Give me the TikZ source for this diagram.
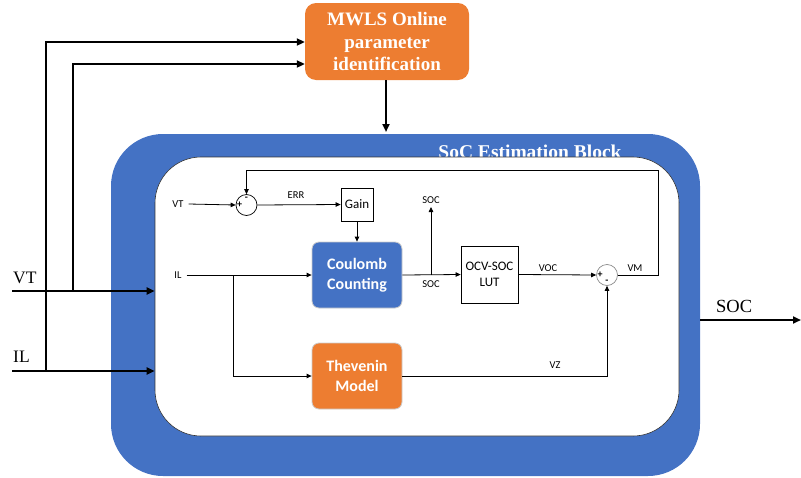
\documentclass[tikz,border=0pt]{standalone}
\usepackage{fontspec}
\setmainfont{Liberation Serif}
\newfontfamily\calib{Carlito}
\usetikzlibrary{arrows.meta}
\definecolor{sblue}{HTML}{4472C4}
\definecolor{sorange}{HTML}{ED7D31}
\begin{document}
\begin{tikzpicture}[x=1pt,y=-1pt,
  bigarrow/.style={line width=2pt,-{Triangle[length=8pt,width=7pt]}},
  smallarrow/.style={line width=0.8pt,-{Triangle[length=5pt,width=4.5pt]}},
  outerlbl/.style={font=\fontsize{17.5}{20}\selectfont,inner sep=0pt},
  lbl/.style={font=\calib\fontsize{10.5}{12}\selectfont,inner sep=0pt},
  sumc/.style={circle,draw,line width=0.7pt,minimum size=21pt,inner sep=0pt},
  sgn/.style={font=\calib\bfseries\fontsize{10}{10}\selectfont,inner sep=0pt},
  plainbox/.style={draw,line width=0.8pt,fill=white,font=\calib\fontsize{13}{16}\selectfont,align=center,inner sep=0pt},
  colbox/.style={draw=black!20,line width=0.8pt,rounded corners=7pt,text=white,font=\calib\bfseries\fontsize{16}{20}\selectfont,align=center,minimum width=90pt,minimum height=66pt,inner sep=0pt}
]
\useasboundingbox (0,0) rectangle (801,477);

% MWLS block
\node[fill=sorange,rounded corners=11pt,minimum width=164pt,minimum height=77pt,text=white,
  font=\bfseries\fontsize{19}{22.5}\selectfont,align=center,inner sep=0pt] (mwls) at (387,41.5)
  {MWLS Online\\parameter\\identification};

% outer and inner blocks
\node[fill=sblue,rounded corners=52pt,minimum width=589pt,minimum height=342pt,inner sep=0pt] (outer) at (405.5,305) {};
\node[text=white,font=\bfseries\fontsize{19.5}{20}\selectfont,anchor=base,inner sep=0pt] (title) at (530,158.3) {SoC Estimation Block};
\node[fill=white,draw=black!80,line width=0.6pt,rounded corners=46pt,minimum width=524pt,minimum height=279pt,inner sep=0pt] (inner) at (417,296.5) {};

% MWLS to block
\draw[bigarrow] (mwls.south -| 386,0) -- (386,132);

% left inputs
\coordinate (vtin) at (12,291);
\coordinate (ilin) at (12,371);
\coordinate (j1) at (46,371);
\coordinate (j2) at (73,291);
\node[outerlbl,anchor=base west] (vtlab) at (13,283) {VT};
\node[outerlbl,anchor=base west] (illab) at (13,362) {IL};
\draw[bigarrow] (vtin) -- (vtin -| inner.west);
\draw[bigarrow] (ilin) -- (ilin -| inner.west);
\draw[bigarrow] (j1) |- (mwls.west |- 0,42);
\draw[bigarrow] (j2) |- (mwls.west |- 0,64);

% SOC output
\coordinate (socout) at (801,320);
\draw[bigarrow] (outer.east |- socout) -- (socout);
\node[outerlbl,font=\fontsize{18.5}{20}\selectfont,anchor=base west] (soclab) at (716,312) {SOC};

% inner diagram
\node[sumc] (s1) at (246.5,205) {};
\node[sgn] at ([xshift=4pt]s1.west) {+};
\node[sgn] at ([yshift=-4.5pt]s1.north) {-};
\node[lbl] (vtl) at (178,204) {VT};
\draw[smallarrow] ([xshift=5pt]vtl.east) -- (s1.west);

\node[plainbox,minimum width=32pt,minimum height=33pt] (gain) at (357,204.5) {Gain};
\node[lbl] (err) at (296,195) {ERR};
\draw[smallarrow] (s1.east) -- (gain.west);

\node[colbox,fill=sblue] (cc) at (357,275) {Coulomb\\Counting};
\node[colbox,fill=sorange] (th) at (357,376) {Thevenin\\Model};
\draw[smallarrow] (gain.south) -- (cc.north);

\node[lbl] (ill) at (178,275) {IL};
\coordinate (sp) at (233,275);
\draw[smallarrow] ([xshift=5pt]ill.east) -- (cc.west);
\draw[smallarrow] (sp) |- (th.west);

\node[plainbox,minimum width=57pt,minimum height=57pt] (lut) at (489.5,274.5) {OCV-SOC\\LUT};
\coordinate (br) at (431,275);
\coordinate (soctop) at (431,207);
\draw[smallarrow] (cc.east) -- (lut.west);
\draw[smallarrow] (br) -- (soctop);
\node[lbl] (soc1) at (431,200) {SOC};
\node[lbl] (soc2) at (431,284) {SOC};

\node[sumc,draw=black!45] (s2) at (607,275) {};
\node[sgn] at ([xshift=4pt]s2.west) {+};
\node[sgn] at ([yshift=4.5pt]s2.south) {-};
\node[lbl] (voc) at (548,268) {VOC};
\draw[smallarrow] (lut.east) -- (s2.west);

\node[lbl] (vm) at (635,268) {VM};
\coordinate (fb1) at (658,170.5);
\draw[smallarrow] (s2.east) -| (fb1) -| (s1.north);

\node[lbl] (vz) at (555,365) {VZ};
\draw[smallarrow] (th.east) -| (s2.south);
\end{tikzpicture}
\end{document}
